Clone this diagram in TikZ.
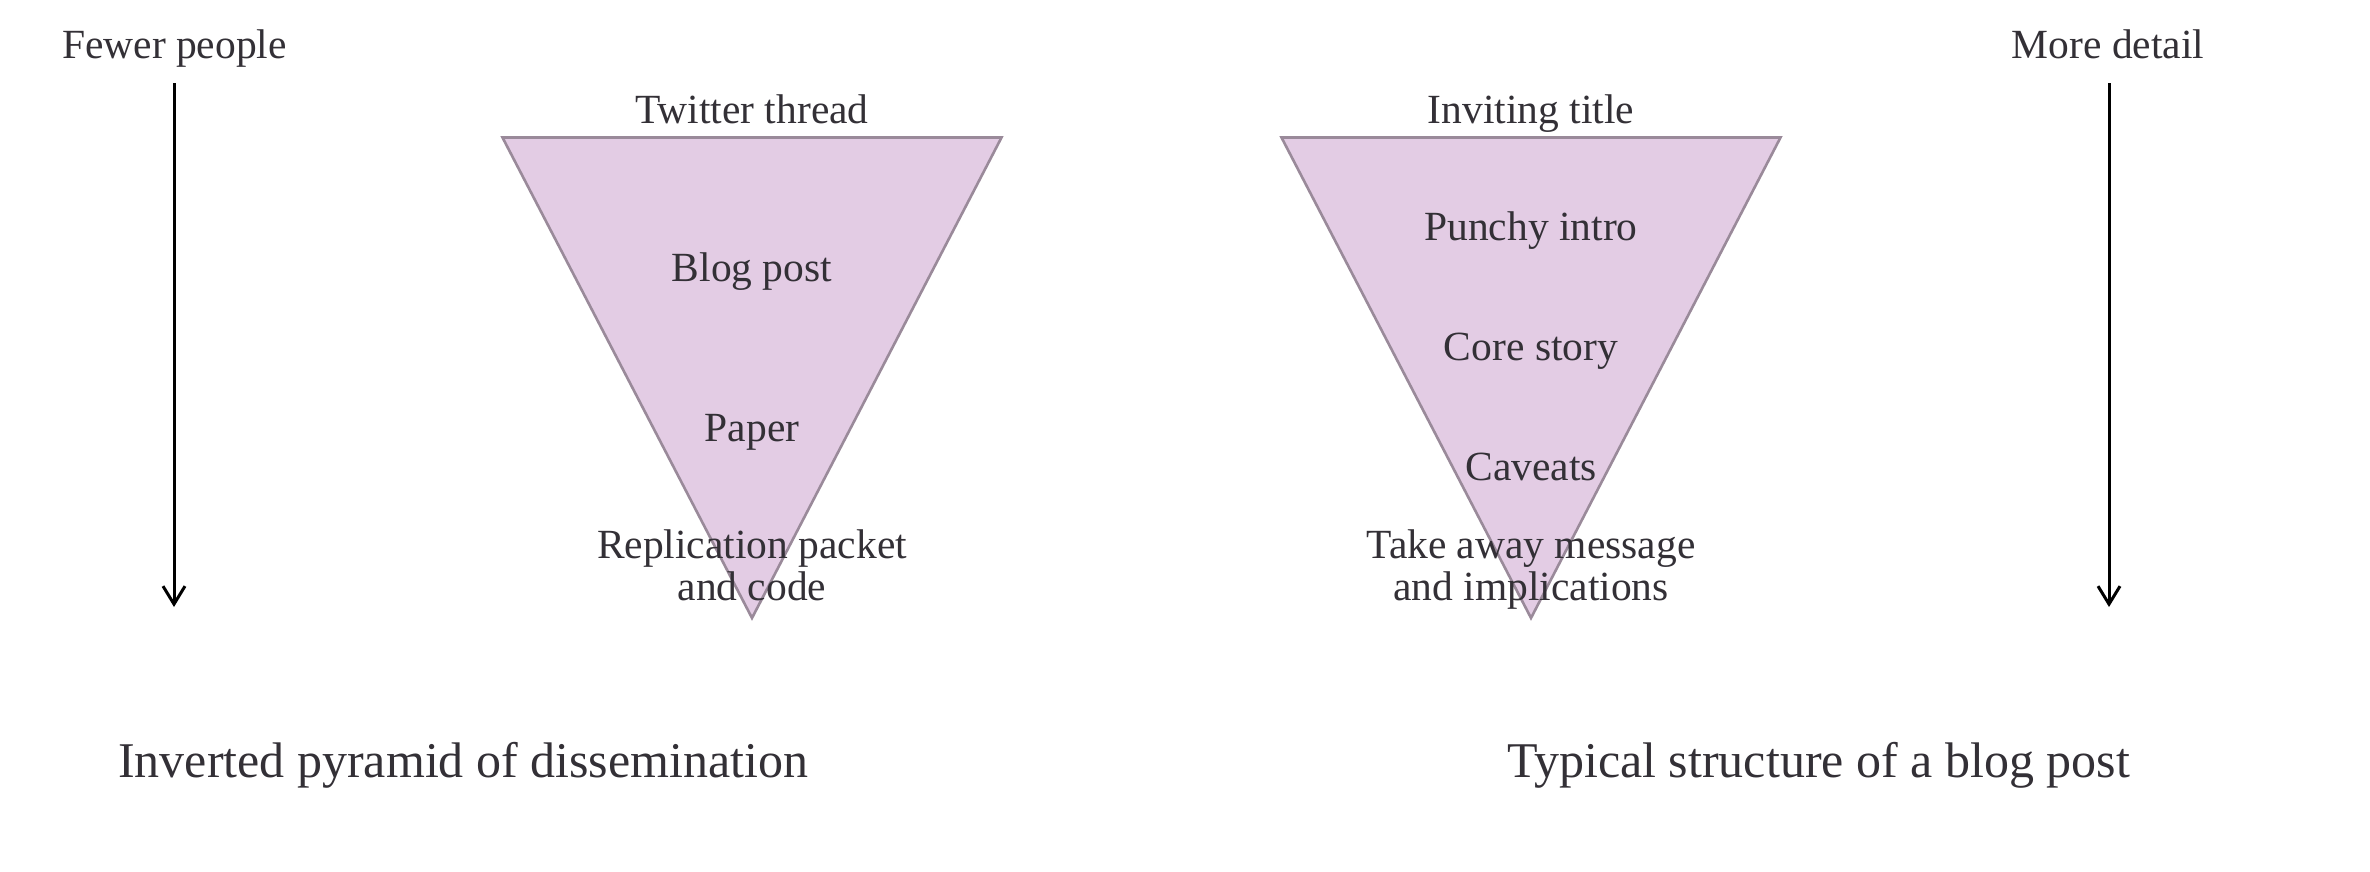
\documentclass[tikz,border=0pt]{standalone}
\usepackage{fontspec}
\setmainfont{Liberation Serif}
\usetikzlibrary{arrows.meta}
\definecolor{txtc}{HTML}{333036}
\definecolor{pyrfill}{HTML}{E3CCE4}
\definecolor{pyrline}{HTML}{9A8A9A}
\tikzset{
  lbl/.style={anchor=base, inner sep=0pt, text=txtc, font=\fontsize{41.5}{42}\selectfont, align=center},
  ttl/.style={anchor=base west, inner sep=0pt, text=txtc, font=\fontsize{50}{52}\selectfont},
  pyr/.style={fill=pyrfill, draw=pyrline, line width=2.6pt, line join=miter},
  axisarrow/.style={draw=black, line width=3pt, -{Straight Barb[length=18pt,width=22pt,line width=3pt]}}
}
\begin{document}
\begin{tikzpicture}[x=1pt,y=-1pt]
\useasboundingbox (0,0) rectangle (2370,871);
% pyramids
\coordinate (lA) at (502.5,137.5);
\coordinate (lB) at (1001.5,137.5);
\coordinate (lC) at (752,618);
\coordinate (rA) at (1281.5,137.5);
\coordinate (rB) at (1780.5,137.5);
\coordinate (rC) at (1531,618);
\draw[pyr] (lA) -- (lB) -- (lC) -- cycle;
\draw[pyr] (rA) -- (rB) -- (rC) -- cycle;
% side labels and arrows
\node[lbl] (fewer) at (174.5,58) {Fewer people};
\node[lbl] (more) at (2108,58) {More detail};
\coordinate (fa1) at (174,83);
\coordinate (fa2) at (174,607);
\coordinate (ma1) at (2109,83);
\coordinate (ma2) at (2109,607);
\draw[axisarrow] (fa1) -- (fa2);
\draw[axisarrow] (ma1) -- (ma2);
% left pyramid texts
\node[lbl] (tw) at (752,123) {Twitter thread};
\node[lbl] (blog) at (752,281) {Blog post};
\node[lbl] (paper) at (752,441) {Paper};
\node[lbl] (repl) at (752,600) {Replication packet\\and code};
% right pyramid texts
\node[lbl] (inv) at (1531,123) {Inviting title};
\node[lbl] (punchy) at (1531,240) {Punchy intro};
\node[lbl] (core) at (1531,360) {Core story};
\node[lbl] (cav) at (1531,480) {Caveats};
\node[lbl] (take) at (1531,600) {Take away message\\and implications};
% titles
\node[ttl] (t1) at (118,777) {Inverted pyramid of dissemination};
\node[ttl] (t2) at (1507,777) {Typical structure of a blog post};
\end{tikzpicture}
\end{document}
